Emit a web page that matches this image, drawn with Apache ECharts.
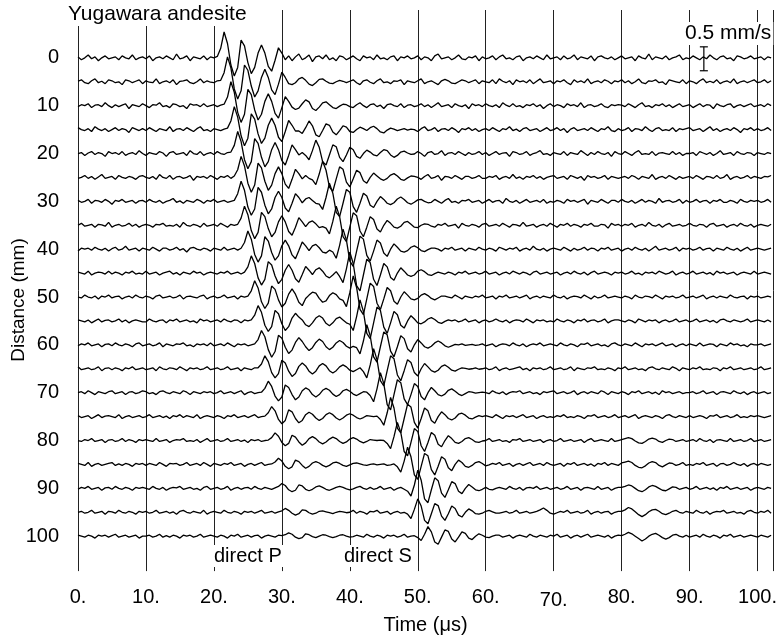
<!DOCTYPE html>
<html>
<head>
<meta charset="utf-8">
<title>Yugawara andesite</title>
<script src="https://cdn.jsdelivr.net/npm/echarts@6/dist/echarts.min.js"></script>
<style>
  html, body { margin: 0; padding: 0; background: #fff; }
  #chart { width: 780px; height: 640px; }
</style>
</head>
<body>
<div id="chart"></div>
<script>
// receiver distance of each trace (mm)
const distances = [0, 5, 10, 15, 20, 25, 30, 35, 40, 45, 50, 55, 60, 65, 70, 75, 80, 85, 90, 95, 100];
const timeTicks = [0, 10, 20, 30, 40, 50, 60, 70, 80, 90, 100];
const sampleStep = 0.5; // us between samples, first sample at 0 us
const scaleBarValue = 0.5; // mm/s
const scaleBarAt = [92.1, -2.3]; // us, mm (top of the bar)

// particle velocity, unit 0.01 mm/s, up = positive, one row per 10 us
const amp00 = [
  2,-4,0,6,-2,2,-6,0,4,-2,0,2,-4,4,0,-2,6,-4,0,2,
  -2,4,-6,0,2,-2,4,0,-4,8,-2,0,4,-6,2,0,-2,4,-4,2,
  0,3,20,54,30,-15,-38,-20,37,25,-10,-33,-20,10,27,10,-18,-28,-5,21,
  10,-4,4,-6,2,8,-4,0,6,-8,2,4,-2,6,-4,0,-6,4,2,-4,
  0,4,-2,-6,4,0,2,-4,6,-2,0,-4,2,4,-6,2,0,4,-2,0,
  4,-4,2,0,-6,4,8,-2,0,2,-4,0,6,-2,-4,2,0,4,-6,2,
  -2,0,4,-4,2,6,-2,0,-4,2,4,-6,0,2,-2,4,0,-4,6,-2,
  0,2,-4,4,-2,0,6,-4,2,0,-2,4,-6,2,4,0,-2,2,-4,0,
  4,-2,0,2,-6,4,0,-2,8,-4,2,0,-2,4,-4,0,2,6,-4,0,
  -2,4,0,-4,2,-2,6,0,-4,2,4,-2,0,-6,4,2,-2,0,4,-2,
  0,2,-4,2,0
];
const amp05 = [
  1,4,-2,-4,2,6,-2,1,-4,4,2,-2,0,-6,4,2,-2,1,4,-4,
  2,-1,-2,6,-4,0,2,-2,4,-6,1,2,4,-2,-4,0,6,-2,2,-1,
  -2,2,3,19,52,29,-15,-36,-19,35,24,-9,-32,-19,9,26,9,-17,-27,-5,
  20,9,-4,-6,-2,6,9,3,-5,-8,-2,5,6,1,-3,-4,0,3,1,-2,
  1,4,-2,-6,2,4,-1,-4,2,6,-2,0,-4,2,1,4,-6,2,0,-2,
  2,6,-4,0,2,-2,-6,2,5,2,-3,-4,0,4,2,-2,1,4,-4,2,
  0,-2,4,-4,6,1,-2,2,-6,4,0,2,-2,4,-4,1,6,-2,0,2,
  -4,2,0,4,-2,-6,4,-1,2,-2,6,-4,0,2,-2,4,1,-4,2,0,
  4,-2,2,-4,0,6,-2,-4,2,1,4,-2,0,-6,4,2,0,-2,4,-4,
  2,0,-4,2,6,-2,1,-2,4,-4,0,2,-2,6,-4,0,2,-2,1,4,
  -2,0,4,-2,2
];
const amp10 = [
  -2,2,0,4,-4,1,2,-2,6,0,-4,2,-2,1,4,-6,2,0,-2,4,
  0,-4,2,1,6,-2,0,-4,4,2,-2,0,-6,4,1,2,-2,4,-2,0,
  2,-2,1,3,18,50,28,-14,-35,-18,34,23,-9,-30,-18,9,25,9,-16,-26,
  -4,19,9,-3,-8,-5,4,12,8,-6,-10,-3,6,8,2,-4,-6,-1,3,2,
  -2,-4,2,6,0,-4,2,4,-2,1,-6,2,4,0,-2,4,-4,1,2,-2,
  0,4,-2,2,-4,1,6,-2,0,2,-4,4,0,-2,2,-6,4,0,2,-2,
  4,0,-2,2,-4,6,1,-2,4,-2,0,-4,2,0,4,-2,2,-6,0,4,
  -2,2,0,-4,4,0,2,-2,6,-4,1,2,-2,0,4,-2,-4,2,0,2,
  1,-2,4,0,-4,2,6,-2,0,-4,2,0,4,-2,2,-4,0,4,-2,0,
  2,-4,0,4,-2,2,1,-6,4,0,-2,2,4,-4,0,2,-2,1,4,-2,
  0,2,-2,4,0
];
const amp15 = [
  4,0,-2,2,-4,6,1,-2,2,-4,0,4,-2,2,0,-6,4,1,-2,2,
  -2,4,0,-4,2,0,-2,6,-4,1,2,-2,4,0,-4,2,6,-2,0,-4,
  2,0,-2,1,3,18,48,26,-13,-34,-18,33,22,-9,-29,-18,9,24,9,-16,
  -25,-4,19,9,-3,-3,-8,4,18,8,-11,-15,-2,12,9,-5,-11,-2,8,5,
  -4,-6,0,5,2,-2,4,7,2,-5,-7,-1,3,1,-2,0,2,-1,1,0,
  -4,2,6,-2,0,4,-4,1,2,-2,4,0,-6,2,0,4,-2,2,-4,0,
  2,-2,4,0,-4,2,0,6,-2,1,-4,2,4,-2,0,2,-4,0,4,-2,
  0,4,-2,2,-6,1,4,-2,0,2,-2,4,0,-4,2,0,6,-2,-4,2,
  -2,0,4,-4,2,1,-2,6,0,-4,2,4,-2,0,-2,4,-4,2,0,2,
  4,-2,0,2,-4,1,6,-2,2,-4,0,2,-2,4,0,-6,2,0,4,-2,
  2,-2,0,4,-2
];
const amp20 = [
  0,2,-4,1,4,-2,2,0,-6,4,0,2,-2,4,-4,0,2,-2,6,0,
  -4,2,0,-2,4,1,-6,2,4,-2,0,2,-4,6,0,-2,4,-4,0,2,
  -2,4,0,-2,2,3,17,46,25,-13,-32,-17,31,21,-8,-28,-17,8,23,8,
  -15,-24,-4,18,8,-3,2,-4,-13,6,28,13,-17,-24,-3,18,14,-8,-17,-3,
  13,8,-6,-10,0,7,3,-3,-5,2,8,6,-3,-8,-4,3,5,1,-2,-1,
  4,0,-6,2,4,-2,0,6,-4,1,2,-2,4,0,-4,2,-2,0,4,-2,
  2,-4,0,4,-2,1,2,-6,4,2,-2,0,4,-4,0,2,6,-2,0,-4,
  2,0,-2,4,-4,2,0,-2,6,1,-4,2,-2,4,0,-2,2,-6,4,0,
  -2,4,0,-4,2,6,-2,0,-2,4,-4,1,2,0,-2,4,-2,2,-4,0,
  0,2,-4,4,1,-2,2,-4,0,6,-2,0,2,-4,4,0,-2,2,1,-4,
  2,0,-2,2,0
];
const amp25 = [
  -2,0,4,-2,2,-4,1,6,-2,0,2,-4,4,0,-2,2,0,-4,2,4,
  0,-2,2,-4,6,0,-2,4,-4,1,2,-2,0,4,-6,2,0,2,-2,4,
  0,-4,2,0,4,-2,3,16,44,24,-12,-31,-16,30,20,-8,-27,-16,8,22,
  8,-14,-23,-4,17,8,-3,4,-2,-5,-15,7,34,15,-20,-29,-3,22,17,-10,
  -20,-3,15,10,-7,-12,0,9,3,-3,-6,-2,5,8,3,-4,-6,-1,3,2,
  0,-4,2,6,-2,0,4,-6,2,1,-2,4,0,-4,2,2,-2,0,4,-2,
  -2,2,0,4,-4,0,2,-2,6,-2,1,-4,2,0,4,-2,2,-4,0,2,
  4,-2,0,2,-4,4,1,-2,2,-6,4,0,2,-2,0,4,-4,2,0,-2,
  0,2,-2,4,1,-4,2,0,-2,6,-4,0,2,-2,4,0,-4,2,-2,0,
  2,-2,4,0,-4,2,1,-2,4,-2,0,6,-4,0,2,-2,0,4,-2,2,
  0,-2,2,1,4
];
const amp30 = [
  2,-2,0,4,-4,2,1,-2,4,0,-6,2,0,4,-2,0,2,-4,1,2,
  -2,4,0,-2,2,-4,0,2,6,-2,1,-4,2,0,-2,4,1,-4,2,0,
  4,-2,0,2,-2,0,2,16,42,23,-12,-29,-16,29,19,-8,-26,-16,8,21,
  8,-14,-22,-4,16,8,-3,5,8,2,-4,-6,-17,8,38,17,-23,-32,-4,25,
  19,-11,-23,-4,17,11,-8,-13,0,10,4,-4,-7,-3,5,9,4,-3,-6,-2,
  3,4,0,-3,-2,4,0,-4,2,6,-2,0,-4,2,1,4,-2,0,2,-4,
  0,4,-2,1,2,-4,6,0,-2,2,-4,0,4,-2,0,2,-2,4,-4,0,
  -2,2,0,-4,4,0,2,-2,1,4,-6,2,0,-2,4,0,-4,2,2,-2,
  4,0,-2,2,-4,0,4,-2,2,0,-4,6,-2,1,2,-2,0,4,-4,2,
  -2,0,4,-2,1,2,-4,2,0,4,-2,-2,2,0,-4,4,0,-2,2,0,
  2,-2,0,4,-2
];
const amp35 = [
  0,4,-2,0,2,-4,2,1,-2,6,-4,0,2,-2,0,4,-2,2,-4,0,
  2,0,-4,2,1,4,-2,0,-2,2,-4,6,0,-2,2,0,-4,4,-2,0,
  2,-2,4,0,-4,2,0,2,15,40,22,-11,-28,-15,27,18,-7,-24,-15,7,
  20,7,-13,-21,-4,16,7,-3,6,9,3,-5,-3,-6,-18,8,40,18,-24,-34,
  -4,26,20,-12,-24,-4,18,12,-8,-14,0,10,4,-4,-6,-2,6,8,2,-4,
  -5,0,3,2,-2,-4,2,0,4,-2,0,2,-6,4,0,-2,2,0,-4,2,
  4,-2,0,2,-2,4,0,-4,2,1,-2,6,-2,0,2,-4,0,2,-2,4,
  0,-4,2,0,4,-2,2,0,-4,2,0,4,-2,-2,2,1,-6,4,0,2,
  -2,2,0,4,-4,0,2,-2,6,0,-2,2,-4,1,4,-2,0,2,-2,0,
  4,0,-2,2,1,-4,2,4,-2,0,2,-4,0,2,-2,4,0,-2,2,-4,
  0,2,0,-2,2
];
const amp40 = [
  -4,2,0,2,-2,4,0,-2,2,-4,1,4,-2,0,6,-2,0,2,-4,2,
  0,-2,4,0,-4,2,2,-2,0,4,-2,1,-6,2,4,0,-2,2,0,-4,
  2,0,-2,4,-2,0,2,-2,2,14,38,21,-11,-27,-14,26,17,-7,-23,-14,
  7,19,7,-12,-20,-3,15,7,-3,7,10,3,-6,-8,-2,-6,-19,8,42,19,
  -25,-36,-4,27,21,-13,-25,-4,19,13,-8,-15,0,11,4,-4,-6,-3,4,7,
  3,-3,-5,-1,2,2,0,-4,2,0,4,-2,0,2,-4,2,0,-2,4,0,
  -2,2,0,-4,4,1,-2,2,0,4,-4,0,2,-2,6,0,-2,2,-4,0,
  2,0,-2,4,0,-4,2,-2,0,4,-2,2,1,-4,2,0,4,-2,0,2,
  -4,0,2,-2,4,0,-2,2,-4,1,6,-2,0,2,-2,0,4,-4,2,0,
  2,-2,0,4,-2,1,2,-4,2,0,-2,4,0,-2,2,-4,0,4,-2,0,
  2,0,-2,0,2
];
const amp45 = [
  2,0,-2,4,-4,0,2,1,-2,4,-2,2,0,-4,2,0,4,-2,0,-2,
  4,-2,0,2,-4,0,2,4,-2,1,-4,2,0,-2,4,0,2,-4,0,2,
  0,-2,2,0,4,-2,0,2,-2,2,13,36,20,-10,-25,-13,24,17,-6,-22,
  -13,6,18,6,-12,-19,-3,14,6,-3,7,11,4,-6,-10,-4,3,-7,-20,9,
  44,20,-26,-37,-4,29,22,-13,-26,-4,20,13,-9,-15,0,11,4,-4,-7,-4,
  4,7,3,-3,-5,-1,2,0,-2,2,0,-4,2,0,4,-2,0,2,-2,0,
  4,-2,0,2,-4,0,2,-2,4,1,-2,2,0,-4,2,4,-2,0,2,-2,
  0,2,-4,0,2,-2,4,0,-2,2,-4,1,4,-2,0,2,0,-4,2,0,
  2,-2,0,4,-2,0,-4,2,0,2,-2,4,1,-2,0,4,-4,0,2,-2,
  0,4,-2,0,2,-2,1,-4,4,0,2,-2,0,2,-4,0,2,0,-2,4,
  -2,0,2,0,-2
];
const amp50 = [
  0,-2,4,0,-2,2,-4,2,0,4,-2,1,2,-4,0,2,-2,4,0,-2,
  2,0,-4,2,4,-2,0,2,-2,0,4,-4,1,2,0,-2,2,4,-4,0,
  2,-2,0,4,-2,0,2,-4,2,0,2,13,34,19,-10,-24,-13,23,16,-6,
  -21,-13,6,17,6,-11,-18,-3,4,10,8,-3,-11,-8,3,9,5,-4,-7,-20,
  9,44,20,-26,-37,-4,29,22,-13,-26,-4,20,13,-9,-15,0,11,4,-4,-6,
  -3,4,7,3,-3,-6,-2,2,2,0,-2,4,0,-4,2,0,-2,2,0,4,
  -2,0,2,-4,2,0,4,-2,0,2,-2,1,4,-4,0,2,-2,2,0,-2,
  4,0,-2,2,-4,0,2,1,-2,4,0,-4,2,-2,0,4,-2,0,2,0,
  -2,2,0,-4,4,0,-2,2,1,-2,4,0,-4,2,0,2,-2,0,4,-2,
  0,2,-2,1,4,-4,0,2,-2,2,0,-2,4,0,-2,1,2,-4,2,0,
  2,-2,0,2,0
];
const amp55 = [
  2,0,-2,2,-4,0,4,-2,1,2,-2,0,4,-2,2,-4,0,2,0,-2,
  -2,4,0,-2,1,2,-4,2,0,4,-2,0,2,-2,0,-4,4,0,2,-2,
  0,2,-2,4,0,-2,2,1,-4,2,0,2,12,32,18,-9,-22,-12,22,15,
  -6,-20,-12,6,16,8,2,-8,-12,-4,6,11,6,-5,-10,-4,5,8,2,-4,
  -7,-20,9,44,20,-26,-37,-4,29,22,-13,-26,-4,20,13,-9,-15,0,11,4,
  -4,-6,-2,4,7,3,-3,-5,-1,2,0,2,-2,0,4,-2,0,2,-4,0,
  2,-2,0,4,0,-2,2,-4,0,2,1,-2,4,0,-4,2,0,2,-2,0,
  -2,4,0,-2,2,0,-4,2,0,4,-2,1,2,-2,0,4,-4,0,2,2,
  0,-2,2,0,-4,4,1,-2,2,0,2,-4,0,2,-2,0,4,-2,0,2,
  -2,0,4,-2,0,2,-2,1,-4,2,4,0,-2,2,0,-2,0,4,-2,0,
  2,0,-2,2,-2
];
const amp60 = [
  -2,2,0,4,-2,0,2,-4,1,2,-2,4,0,-2,2,0,-4,2,4,-2,
  0,2,-2,0,4,-4,2,0,-2,2,1,4,-2,0,-4,2,0,2,-2,4,
  -2,0,2,-2,4,0,-4,2,0,2,-2,0,2,11,30,17,-10,-26,-14,20,
  14,-5,-18,-11,5,15,7,-4,-12,-6,5,12,7,-4,-10,-5,4,9,5,-3,
  -7,-3,-6,-19,8,42,19,-25,-36,-4,27,21,-13,-25,-4,19,13,-8,-15,0,
  11,4,-4,-7,-3,4,8,4,-2,-5,-2,1,0,2,-1,0,1,-1,0,2,
  -2,0,2,-4,0,2,1,-2,4,0,-2,2,-4,0,2,0,4,-2,0,2,
  0,-2,4,0,-2,2,0,-4,2,1,4,-2,0,2,-2,0,-4,2,4,0,
  -2,2,0,-2,4,0,-4,2,0,2,-2,1,4,-2,0,2,-4,0,2,-2,
  2,0,-2,4,-2,0,2,1,-4,2,0,-2,4,0,2,-2,0,-4,2,0,
  0,2,-2,0,2
];
const amp65 = [
  4,-2,0,2,-2,0,4,-4,1,2,-2,2,0,-4,2,0,4,-2,0,2,
  -2,0,2,-4,4,0,-2,2,1,-2,4,0,-4,2,0,2,-2,0,4,-2,
  0,2,-2,0,4,-2,0,2,-4,2,0,-2,2,2,10,27,15,-8,-19,-10,
  18,12,-5,-16,-10,5,12,6,-5,-11,-5,6,11,6,-4,-9,-4,4,8,4,
  -3,-6,-2,2,-6,-19,8,42,19,-25,-36,-4,27,21,-13,-25,-4,19,13,-8,
  -15,0,11,4,-4,-7,-3,5,8,3,-3,-5,-1,2,1,-1,0,2,-1,0,
  2,-2,0,4,-4,0,2,-2,0,2,4,-2,1,-4,2,0,2,-2,0,4,
  -2,0,2,-2,0,4,-4,2,0,-2,2,1,4,-2,0,-2,2,0,-4,2,
  0,4,-2,0,2,-2,0,-4,2,4,0,-2,2,0,-2,4,1,-4,2,0,
  -2,2,0,4,-2,0,-2,2,1,-4,2,0,4,-2,0,2,-2,0,2,-2,
  0,4,-2,0,2
];
const amp70 = [
  0,2,-2,4,0,-4,2,0,-2,2,4,-2,0,2,-4,1,2,-2,0,4,
  2,-2,0,-4,2,4,0,-2,2,0,-2,4,1,-4,2,0,-2,2,0,2,
  -2,0,4,-2,0,2,-2,1,4,-4,0,2,-2,0,1,9,24,13,-7,-17,
  -9,16,11,-4,-15,-9,4,10,6,-4,-9,-4,5,9,5,-3,-8,-4,4,7,
  3,-3,-6,-2,2,1,-6,-19,8,42,19,-25,-36,-4,27,21,-13,-25,-4,19,
  13,-8,-15,0,11,4,-4,-7,-3,5,8,3,-3,-6,-2,2,1,-1,0,1,
  0,-2,4,0,-2,2,-4,0,2,1,4,-2,0,2,-2,0,-4,2,0,2,
  4,-2,0,2,-2,0,4,-4,0,2,-2,2,0,-2,4,1,-4,2,0,-2,
  2,0,-4,2,0,4,-2,0,2,-2,1,-4,4,0,2,-2,0,2,-2,0,
  0,2,-2,0,4,-2,0,2,-4,1,2,0,-2,4,0,-2,2,-4,0,2,
  -2,0,2,-2,0
];
const amp75 = [
  2,-2,0,2,-4,0,4,-2,1,2,0,-2,4,-4,0,2,-2,0,2,-2,
  0,4,-2,0,2,-2,1,-4,2,0,4,-2,2,0,-2,4,-4,0,2,0,
  -2,2,0,-4,2,0,4,-2,0,2,-2,1,4,-2,0,1,8,21,12,-6,
  -15,-8,14,10,-4,-13,-8,4,9,5,-3,-8,-4,4,8,4,-3,-7,-3,3,
  6,3,-2,-5,-2,2,1,0,1,-6,-18,8,40,18,-24,-34,-4,26,20,-12,
  -24,-4,18,12,-8,-14,0,10,4,-4,-7,-3,5,7,3,-3,-5,-1,2,0,
  2,0,-2,4,0,-4,2,0,2,-2,1,4,-2,0,2,-4,0,2,-2,0,
  -2,2,0,4,-2,0,-2,2,0,-4,2,1,4,-2,0,2,-2,0,4,-2,
  0,2,-2,1,4,-4,0,2,0,-2,2,0,-4,2,4,0,-2,2,0,-2,
  2,-2,0,2,0,-4,2,1,4,-2,0,2,-2,0,4,-2,0,-2,2,0,
  2,0,-2,0,2
];
const amp80 = [
  0,-2,2,0,4,-2,0,2,-4,1,2,-2,0,4,-2,2,0,-4,2,0,
  2,0,-2,4,-2,0,2,-4,0,2,1,4,-2,0,-2,2,-4,0,4,-2,
  0,2,-2,0,4,-2,0,2,-2,1,-4,2,0,2,-2,0,1,6,16,9,
  -4,-11,-6,11,7,-3,-10,-5,4,8,4,-3,-7,-3,3,7,4,-2,-6,-3,
  3,6,3,-2,-5,-2,2,1,0,1,0,-6,-17,8,38,17,-23,-32,-4,25,
  19,-11,-23,-4,17,11,-8,-13,0,10,4,-4,-6,-2,4,6,2,-3,-4,-1,
  0,4,-2,0,2,-2,0,-4,2,1,4,-2,0,2,-2,0,2,-4,0,2,
  -2,0,4,-2,0,2,-2,0,2,-4,1,4,-2,0,2,0,-2,4,-2,0,
  2,4,6,4,-1,-5,-6,-2,3,5,3,-2,-4,0,3,2,-2,0,2,-2,
  0,2,-2,4,0,-2,2,-4,1,2,0,-2,4,-2,0,2,-2,0,4,-2,
  0,2,-2,0,2
];
const amp85 = [
  2,0,-2,4,-4,0,2,-2,0,2,4,-2,1,-2,2,0,-4,2,0,2,
  -2,2,0,-2,4,0,-4,2,1,2,-2,0,4,-2,0,2,-2,4,0,-4,
  2,0,-2,2,0,4,-2,0,2,-4,0,2,-2,1,4,-2,0,1,5,13,
  7,-4,-9,-5,9,6,-2,-8,-4,3,6,3,-2,-5,-2,3,5,2,-2,-4,
  -1,2,3,1,-1,-2,0,1,-1,0,1,-2,-1,1,-5,-16,7,36,16,-22,
  -31,-4,23,18,-11,-22,-4,16,11,-7,-13,0,9,4,-4,-6,-2,4,6,2,
  -3,-1,2,0,4,-2,0,2,-4,0,2,-2,1,4,-2,0,2,-2,4,0,
  -2,0,2,-4,2,0,4,-2,0,2,-2,1,-4,2,0,4,-2,2,0,-2,
  3,5,7,4,-2,-6,-7,-3,3,6,4,-2,-5,-1,3,2,-2,0,4,-2,
  0,-2,2,0,4,-2,0,2,-4,1,2,-2,0,4,0,-2,2,-4,0,2,
  -2,2,0,-2,0
];
const amp90 = [
  -2,2,0,4,-2,0,2,-4,1,2,-2,4,0,-2,2,0,-4,2,0,2,
  0,-2,4,0,-2,2,-4,0,2,1,4,-2,0,2,-2,0,-4,2,4,-2,
  0,2,-2,0,4,-4,0,2,-2,1,2,-2,4,0,-2,2,0,-2,1,4,
  10,6,-3,-7,-4,7,5,-2,-5,-2,3,5,2,-2,-4,-1,2,4,2,-1,
  -3,-1,2,4,0,-2,2,-2,0,4,-2,0,2,-4,0,2,-2,-6,-16,7,
  38,17,-22,-30,-3,22,16,-10,-19,-3,14,10,-6,-11,0,8,3,-3,-5,-2,
  2,-2,-3,0,2,0,-2,4,0,-2,2,-4,1,2,0,4,-2,0,2,-2,
  0,2,-2,0,4,-2,0,2,-4,1,2,0,-2,4,-2,0,2,-4,0,2,
  2,4,7,5,0,-5,-7,-3,3,6,4,0,-4,-5,-1,3,2,-2,0,2,
  -2,0,4,-2,0,2,-2,1,-4,2,0,4,-2,0,2,-2,0,2,-4,0,
  2,0,-2,2,0
];
const amp95 = [
  0,2,-2,0,4,-2,0,2,-4,2,1,-2,4,0,-2,2,0,-4,2,0,
  2,-2,0,4,-2,0,2,-2,1,-4,2,4,0,-2,2,0,-2,4,-4,0,
  2,0,-2,4,0,-2,2,0,-4,2,0,2,-2,1,4,-2,0,2,-2,1,
  3,8,4,-2,-6,-3,5,4,-1,-4,-2,2,3,1,-1,-3,0,2,1,-1,
  0,4,-2,2,0,-4,2,1,4,-2,0,2,-4,0,2,-2,0,-4,-13,6,
  28,13,-17,-24,-3,18,14,-8,-17,-3,13,8,-6,-10,0,7,3,-3,-4,-2,
  2,4,1,-2,-2,0,2,-2,0,4,-2,0,2,-2,0,2,5,9,4,-2,
  -4,-1,2,0,4,-2,0,2,-2,0,4,-4,0,2,-2,1,2,-4,0,2,
  2,5,10,7,1,-5,-9,-5,1,5,6,2,-3,-5,-2,2,4,0,-2,2,
  0,-2,4,0,-2,2,-4,0,2,1,4,-2,0,2,-2,0,-4,2,4,0,
  -2,2,0,4,-2
];
const amp100 = [
  2,0,-2,2,0,-4,2,0,2,-2,1,4,-2,0,2,-2,0,2,-4,0,
  0,2,-2,0,4,-2,1,-2,2,0,-4,2,0,2,-2,0,4,-2,0,2,
  0,-2,2,0,-4,2,0,4,-2,0,2,-2,1,2,-4,0,2,0,-2,2,
  1,3,7,4,-2,-5,-3,5,3,-1,-3,0,3,2,-1,-3,-1,2,3,0,
  -2,-1,2,0,-2,4,0,-2,2,0,-4,2,0,2,-2,0,4,-2,0,1,
  -3,-9,4,20,9,-12,-17,-2,13,10,-6,-12,-2,9,6,-4,-7,0,5,2,
  -2,-3,0,2,2,-2,0,2,-4,0,2,0,-2,4,0,-2,2,0,-2,2,
  0,4,-2,0,2,-4,0,2,-2,1,4,-2,0,2,0,-2,2,-4,0,2,
  1,4,8,5,0,-5,-10,-6,0,4,6,2,-3,-6,-3,2,4,0,-2,2,
  -2,0,2,-2,4,0,-2,2,0,-4,2,0,4,-2,0,2,-2,0,2,0,
  -2,2,0,-2,2
];

const traces = [amp00, amp05, amp10, amp15, amp20, amp25, amp30, amp35, amp40, amp45, amp50,
  amp55, amp60, amp65, amp70, amp75, amp80, amp85, amp90, amp95, amp100];

// the 0.5 mm/s bar spans one trace spacing (5 mm), so 0.01 mm/s -> 0.1 mm
const mmPerUnit = 0.1;
const FONT = '"Liberation Sans", Arial, sans-serif';
const INK = '#000';

const chart = echarts.init(document.getElementById('chart'), null, { renderer: 'canvas' });

const traceSeries = traces.map((vals, k) => ({
  type: 'line',
  name: distances[k] + ' mm',
  showSymbol: false,
  symbol: 'none',
  silent: true,
  clip: false,
  z: 3,
  lineStyle: { color: INK, width: 1.3 },
  data: vals.map((v, i) => [i * sampleStep, distances[k] - v * mmPerUnit])
}));

const scaleBarSeries = {
  type: 'custom',
  silent: true,
  z: 4,
  data: [scaleBarAt],
  renderItem: (params, api) => {
    const top = api.coord([api.value(0), api.value(1)]);
    const bottom = api.coord([api.value(0), api.value(1) + scaleBarValue * 100 * mmPerUnit]);
    const st = { stroke: INK, lineWidth: 1.2 };
    return {
      type: 'group',
      children: [
        { type: 'line', shape: { x1: top[0], y1: top[1], x2: bottom[0], y2: bottom[1] }, style: st },
        { type: 'line', shape: { x1: top[0] - 4, y1: top[1], x2: top[0] + 4, y2: top[1] }, style: st },
        { type: 'line', shape: { x1: bottom[0] - 4, y1: bottom[1], x2: bottom[0] + 4, y2: bottom[1] }, style: st }
      ]
    };
  }
};

function textEl(text, left, top, size) {
  return {
    type: 'text', left: left, top: top, z: 100,
    style: { text: text, fill: INK, font: (size || 20) + 'px ' + FONT, backgroundColor: '#fff', padding: [1, 2] }
  };
}

chart.setOption({
  animation: false,
  backgroundColor: '#fff',
  grid: { left: 78, right: 4, top: 10, bottom: 68 },
  xAxis: {
    type: 'value',
    min: 0,
    max: 102.3,
    interval: 10,
    axisLine: { show: false },
    axisTick: { show: false },
    splitLine: { show: true, lineStyle: { color: '#222', width: 1 } },
    axisLabel: {
      margin: 16,
      color: INK,
      fontSize: 20,
      fontFamily: FONT,
      showMaxLabel: false,
      formatter: v => (timeTicks.indexOf(v) < 0 ? '' : (v === 70 ? '{low|70.}' : v + '.')),
      rich: { low: { fontSize: 20, fontFamily: FONT, color: INK, padding: [3, 0, 0, 0] } }
    },
    name: 'Time (\u03bcs)',
    nameLocation: 'middle',
    nameGap: 35,
    nameTextStyle: { color: INK, fontSize: 20, fontFamily: FONT }
  },
  yAxis: {
    type: 'value',
    inverse: true,
    min: -10,
    max: 107.3,
    interval: 10,
    axisLine: { show: false },
    axisTick: { show: false },
    splitLine: { show: false },
    axisLabel: {
      margin: 19,
      color: INK,
      fontSize: 20,
      fontFamily: FONT,
      showMaxLabel: false,
      formatter: v => (v < 0 || v > 100 ? '' : String(v))
    }
  },
  graphic: [
    textEl('Yugawara andesite', 66, 3, 21),
    textEl('0.5 mm/s', 683, 22, 21),
    textEl('direct P', 212, 545),
    textEl('direct S', 342, 545),
    {
      type: 'text', z: 100, x: 19, y: 300, rotation: Math.PI / 2,
      style: { text: 'Distance (mm)', fill: INK, font: '19px ' + FONT, align: 'center', verticalAlign: 'middle' }
    }
  ],
  series: traceSeries.concat([scaleBarSeries])
});
</script>
</body>
</html>
